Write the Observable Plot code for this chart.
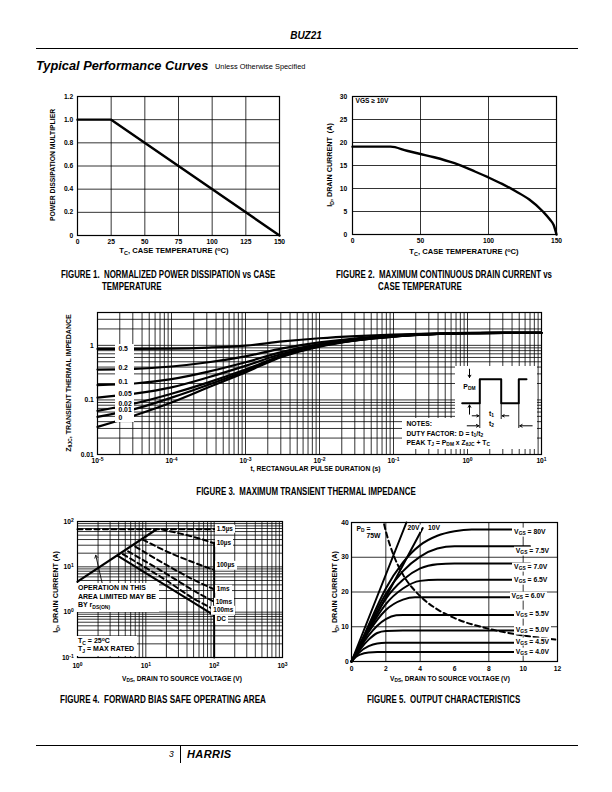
<!DOCTYPE html>
<html>
<head>
<meta charset="utf-8">
<script src="https://cdn.jsdelivr.net/npm/d3@7"></script>
<script src="https://cdn.jsdelivr.net/npm/@observablehq/plot@0.6"></script>
<style>
html,body{margin:0;padding:0;background:#fff;}
#page{position:relative;width:612px;height:792px;overflow:hidden;font-family:"Liberation Sans",Arial,Helvetica,sans-serif;color:#000;background:#fff;}
.abs{position:absolute;white-space:nowrap;line-height:1;}
sub{font-size:72%;vertical-align:-0.3em;line-height:0;}
sup{font-size:72%;vertical-align:0.45em;line-height:0;}
.rule{position:absolute;background:#000;}
</style>
</head>
<body>
<div id="page"></div>
<script>
// ================= DATA =================
// Figure 1 – normalized power dissipation vs case temperature
const f1Temp = [0, 25, 150];
const f1Mult = [1.0, 1.0, 0];
const f1XTicks = [0, 25, 50, 75, 100, 125, 150];
const f1YTicks = [0, 0.2, 0.4, 0.6, 0.8, 1.0, 1.2];
const f1YLabels = ["0", "0.2", "0.4", "0.6", "0.8", "1.0", "1.2"];

// Figure 2 – max continuous drain current vs case temperature
const f2Temp = [0, 28, 40, 50, 60, 75, 90, 100, 110, 120, 130, 140, 145, 148, 150];
const f2Id   = [19.1, 19.1, 18.2, 17.5, 16.8, 15.5, 13.7, 12.4, 11.0, 9.4, 7.6, 5.0, 3.3, 2.0, 0];
const f2XTicks = [0, 50, 100, 150];
const f2YTicks = [0, 5, 10, 15, 20, 25, 30];

// Figure 3 – transient thermal impedance
const f3Time = [1e-5, 3.16e-5, 1e-4, 3.16e-4, 1e-3, 3.16e-3, 1e-2, 3.16e-2, 1e-1, 3.16e-1, 1, 3.16, 10];
const f3Duty = ["0.5", "0.2", "0.1", "0.05", "0.02", "0.01", "0"];
const f3Z05  = [0.86, 0.86, 0.87, 0.91, 0.99, 1.18, 1.35, 1.48, 1.58, 1.65, 1.69, 1.70, 1.70];
const f3Z02  = [0.36, 0.37, 0.41, 0.49, 0.63, 0.88, 1.13, 1.35, 1.51, 1.62, 1.68, 1.70, 1.70];
const f3Z01  = [0.187, 0.20, 0.24, 0.33, 0.49, 0.76, 1.05, 1.30, 1.48, 1.61, 1.67, 1.70, 1.70];
const f3Z005 = [0.11, 0.13, 0.17, 0.26, 0.42, 0.70, 1.01, 1.27, 1.47, 1.60, 1.67, 1.70, 1.70];
const f3Z002 = [0.063, 0.086, 0.13, 0.21, 0.36, 0.66, 0.98, 1.25, 1.46, 1.60, 1.67, 1.70, 1.70];
const f3Z001 = [0.049, 0.068, 0.11, 0.19, 0.34, 0.64, 0.97, 1.24, 1.45, 1.60, 1.67, 1.70, 1.70];
const f3Z0   = [0.032, 0.052, 0.09, 0.17, 0.32, 0.62, 0.95, 1.23, 1.45, 1.59, 1.67, 1.70, 1.70];
const f3LabelT = 1.95e-5;
const f3LabelZ = [0.857, 0.37, 0.213, 0.127, 0.083, 0.063, 0.046];
const f3XTicks = [1e-5, 1e-4, 1e-3, 1e-2, 1e-1, 1, 10];
const f3XTickLabels = ["10^-5", "10^-4", "10^-3", "10^-2", "10^-1", "10^0", "10^1"];
const f3YTicks = [0.01, 0.1, 1];
const f3YTickLabels = ["0.01", "0.1", "1"];
// note inset (diagram units)
const pulseX = [6.7, 24.3, 24.3, 45.7, 45.7, 63.3, 63.3, 71];
const pulseY = [36.7, 36.7, 12.7, 12.7, 36.7, 36.7, 12.7, 12.7];

// Figure 4 – forward bias safe operating area
const f4RdsV = [1, 14.4];       const f4RdsI = [4.7, 67.6];
const f4V15us = [1, 100];       const f4I15us = [67.6, 67.6];
const f4V10us = [17, 32, 55, 100];   const f4I10us = [67, 54, 44, 33];
const f4V100us = [9, 20, 50, 100];   const f4I100us = [40, 22, 12.5, 8.5];
const f4V1ms = [7, 20, 50, 100];     const f4I1ms = [28, 11, 5.2, 3.2];
const f4V10ms = [5.5, 20, 50, 100];  const f4I10ms = [22, 7, 3, 1.7];
const f4V100ms = [4.6, 20, 50, 100]; const f4I100ms = [19, 5, 2, 1.15];
const f4VDC = [3.9, 100];       const f4IDC = [17.5, 0.85];
const f4VBV = [100, 100];       const f4IBV = [34, 0.1];
const f4ArrowV = [2.3, 1.85];   const f4ArrowI = [4.3, 18];
const f4Labels = ["1.5µs", "10µs", "100µs", "1ms", "10ms", "100ms", "DC"];
const f4LabelV = [111, 111, 111, 111, 107, 99, 111];
const f4LabelI = [67.6, 32.6, 10.5, 3.2, 1.63, 1.07, 0.68];
const f4XTicks = [1, 10, 100, 1000];
const f4XTickLabels = ["10^0", "10^1", "10^2", "10^3"];
const f4YTicks = [0.1, 1, 10, 100];
const f4YTickLabels = ["10^-1", "10^0", "10^1", "10^2"];

// Figure 5 – output characteristics
const f5Vds8  = [0, 0.5, 1, 1.5, 2, 3, 4, 5, 6, 7, 10.4];    const f5Id8  = [0, 5, 10.5, 16, 21, 28.5, 33.5, 36.2, 37.5, 38, 38];
const f5Vds75 = [0, 0.5, 1, 1.5, 2, 3, 4, 5, 6, 10.4];       const f5Id75 = [0, 5, 10, 15, 19.5, 26, 30.2, 32.5, 33.2, 33.2];
const f5Vds7  = [0, 0.5, 1, 1.5, 2, 3, 4, 5, 6, 10.4];       const f5Id7  = [0, 4.8, 9.5, 14, 18, 23.5, 26.8, 28, 28.2, 28.2];
const f5Vds65 = [0, 0.5, 1, 1.5, 2, 3, 4, 5, 10.4];          const f5Id65 = [0, 4.6, 9, 13, 16.5, 21, 23.2, 23.5, 23.5];
const f5Vds6  = [0, 0.5, 1, 1.5, 2, 3, 3.7, 10.4];           const f5Id6  = [0, 4.3, 8.5, 12, 14.8, 17.8, 18.5, 18.5];
const f5Vds55 = [0, 0.5, 1, 1.5, 2, 2.6, 3, 10.4];           const f5Id55 = [0, 4, 7.5, 10.3, 12.2, 13.3, 13.4, 13.4];
const f5Vds5  = [0, 0.5, 1, 1.5, 2, 3, 10.4];                const f5Id5  = [0, 3.5, 6.3, 8.2, 8.8, 8.9, 8.9];
const f5Vds45 = [0, 0.5, 1, 1.5, 2, 10.4];                   const f5Id45 = [0, 2.8, 4.4, 5.2, 5.4, 5.4];
const f5Vds4  = [0, 0.25, 0.5, 1, 1.5, 10.4];                const f5Id4  = [0, 1.3, 2.0, 2.6, 2.7, 2.7];
const f5Vds20 = [0, 3.2];  const f5Id20 = [0, 40];
const f5Vds10 = [0, 4.15]; const f5Id10 = [0, 38.4];
const f5PdV = [1.9, 2, 2.5, 3, 4, 5, 6, 8, 10, 12];
const f5PdI = [39.5, 37.5, 30, 25, 18.8, 15, 12.5, 9.4, 7.5, 6.25];
const f5Labels = ["80V", "7.5V", "7.0V", "6.5V", "6.0V", "5.5V", "5.0V", "4.5V", "4.0V"];
const f5LabelV = [9.5, 9.6, 9.5, 9.5, 9.35, 9.6, 9.6, 9.6, 9.6];
const f5LabelI = [37, 31.7, 27.1, 23.3, 18.6, 13.5, 8.9, 5.6, 2.7];
const f5XTicks = [0, 2, 4, 6, 8, 10, 12];
const f5GridX = [2, 4, 8, 10];
const f5YTicks = [0, 10, 20, 30, 40];

// ================= HELPERS =================
const FONT = '"Liberation Sans", Arial, Helvetica, sans-serif';
const page = document.getElementById("page");
const zip = (xs, ys) => xs.map((x, i) => ({x, y: ys[i]}));
const grid = {stroke: "#000", strokeOpacity: 1, strokeWidth: 0.8};
const frame = () => Plot.frame({stroke: "#000", strokeWidth: 1.2});
const tickStyle = {fontFamily: FONT, fontSize: "6.7px", fontWeight: "bold", background: "transparent", color: "#000", overflow: "visible"};
const logGrid = (lo, hi) => { const out = []; for (let e = lo; e < hi; e++) for (let k = 1; k < 10; k++) out.push(+(k * Math.pow(10, e)).toPrecision(3)); out.push(Math.pow(10, hi)); return out; };

function plotAt(opts, left, top) {
  const p = Plot.plot(opts);
  p.style.position = "absolute";
  p.style.left = left + "px";
  p.style.top = top + "px";
  page.appendChild(p);
  supTicks(p);
  const sx = p.scale("x"), sy = p.scale("y");
  return {el: p, X: v => left + sx.apply(v), Y: v => top + sy.apply(v)};
}
function supTicks(svg) {
  svg.querySelectorAll("text").forEach(t => {
    const m = /^10\^([-−]?\d+)$/.exec(t.textContent);
    if (m) {
      t.textContent = "10";
      const ts = document.createElementNS("http://www.w3.org/2000/svg", "tspan");
      ts.setAttribute("dy", "-0.42em");
      ts.setAttribute("font-size", "0.75em");
      ts.textContent = m[1].replace("−", "-");
      t.appendChild(ts);
    }
  });
}
function T(html, x, y, o = {}) {
  const d = document.createElement("div");
  d.className = "abs";
  d.innerHTML = html;
  const s = d.style;
  s.left = x + "px"; s.top = y + "px";
  s.fontSize = (o.size || 7) + "px";
  s.fontWeight = o.weight || "bold";
  if (o.italic) s.fontStyle = "italic";
  if (o.lh) s.lineHeight = o.lh + "px";
  if (o.ls) s.letterSpacing = o.ls + "px";
  const a = o.anchor || "start";
  let tr;
  if (o.rotate) tr = "translate(-50%,-50%) rotate(-90deg)";
  else if (a === "middle") tr = "translate(-50%,-50%)";
  else if (a === "end") tr = "translate(-100%,-50%)";
  else if (a === "top") tr = "";
  else tr = "translate(0,-50%)";
  if (o.sx) { tr += ` scaleX(${o.sx})`; s.transformOrigin = (a === "start" || a === "top") ? "0 50%" : "50% 50%"; }
  if (tr) s.transform = tr;
  if (o.bg) { s.background = "#fff"; s.padding = o.pad || "1px 2px"; }
  page.appendChild(d);
  return d;
}
function box(x, y, w, h) {
  const d = document.createElement("div");
  d.style.cssText = `position:absolute;left:${x}px;top:${y}px;width:${w}px;height:${h}px;background:#fff;`;
  page.appendChild(d);
}
function rule(x, y, w, h) {
  const d = document.createElement("div");
  d.className = "rule";
  d.style.cssText += `left:${x}px;top:${y}px;width:${w}px;height:${h}px;`;
  page.appendChild(d);
}
const lineOpts = (w = 2.2) => ({x: "x", y: "y", stroke: "#000", strokeWidth: w, curve: "monotone-x"});
const CAP = 0.79;

// ================= HEADER =================
T("BUZ21", 306, 36, {size: 10, italic: true, anchor: "middle"});
rule(36, 47.5, 542, 1);
T("Typical Performance Curves", 36, 66, {size: 12.8, italic: true});
T("Unless Otherwise Specified", 215, 67, {size: 7.4, weight: "normal"});

// ================= FIGURE 1 =================
const f1 = plotAt({
  width: 257, height: 169, marginLeft: 40, marginRight: 15, marginTop: 10, marginBottom: 20,
  style: tickStyle,
  x: {domain: [0, 150], ticks: f1XTicks, tickSize: 0, tickPadding: 3.6, label: null},
  y: {domain: [0, 1.2], ticks: f1YTicks, tickSize: 0, tickPadding: 4.3, label: null, tickFormat: d => f1YLabels[f1YTicks.indexOf(d)]},
  marks: [
    Plot.gridX(f1XTicks.slice(1, -1), grid),
    Plot.gridY(f1YTicks.slice(1, -1), grid),
    Plot.line(zip(f1Temp, f1Mult), {x: "x", y: "y", stroke: "#000", strokeWidth: 2.4}),
    frame()
  ]
}, 37, 86);
T("T<sub>C</sub>, CASE TEMPERATURE (<sup>o</sup>C)", 174, 251, {size: 7.6, anchor: "middle"});
T("POWER DISSIPATION MULTIPLIER", 52.5, 165, {size: 6.8, rotate: true});
T("FIGURE 1.&nbsp;&nbsp;NORMALIZED POWER DISSIPATION vs CASE", 60.5, 275, {size: 10, sx: CAP});
T("TEMPERATURE", 101.5, 286.5, {size: 10, sx: CAP});

// ================= FIGURE 2 =================
const f2 = plotAt({
  width: 259, height: 168, marginLeft: 40, marginRight: 15, marginTop: 10, marginBottom: 20,
  style: tickStyle,
  x: {domain: [0, 150], ticks: f2XTicks, tickSize: 0, tickPadding: 3.6, label: null},
  y: {domain: [0, 30], ticks: f2YTicks, tickSize: 0, tickPadding: 5.3, label: null},
  marks: [
    Plot.gridX(f2XTicks.slice(1, -1), grid),
    Plot.gridY(f2YTicks.slice(1, -1), grid),
    Plot.line(zip(f2Temp, f2Id), lineOpts(2.4)),
    frame()
  ]
}, 312, 86);
T("VGS ≥ 10V", 355.5, 100.5, {size: 6.6});
T("T<sub>C</sub>, CASE TEMPERATURE (<sup>o</sup>C)", 464, 252, {size: 7.6, anchor: "middle"});
T("I<sub>D</sub>, DRAIN CURRENT&nbsp;&nbsp;(A)", 330, 165, {size: 7.2, rotate: true});
T("FIGURE 2.&nbsp;&nbsp;MAXIMUM CONTINUOUS DRAIN CURRENT vs", 335.5, 275, {size: 10, sx: CAP});
T("CASE TEMPERATURE", 378, 286.5, {size: 10, sx: CAP});

// ================= FIGURE 3 =================
const f3Series = [f3Z05, f3Z02, f3Z01, f3Z005, f3Z002, f3Z001, f3Z0];
const f3 = plotAt({
  width: 496, height: 170, marginLeft: 40, marginRight: 12, marginTop: 8, marginBottom: 20,
  style: tickStyle,
  x: {type: "log", domain: [1e-5, 10], ticks: f3XTicks, tickSize: 0, tickPadding: 3.6, label: null,
      tickFormat: d => f3XTickLabels[f3XTicks.indexOf(d)]},
  y: {type: "log", domain: [0.01, 4], ticks: f3YTicks, tickSize: 0, tickPadding: 3.7, label: null,
      tickFormat: d => f3YTickLabels[f3YTicks.indexOf(d)]},
  marks: [
    Plot.gridX(logGrid(-5, 1), grid),
    Plot.gridY(logGrid(-2, 0).concat([2, 3]), grid),
    ...f3Series.map(z => Plot.line(zip(f3Time, z), lineOpts(2.2))),
    frame()
  ]
}, 57, 304);
// duty-factor labels
{
  const bx = f3.X(f3LabelT) - 3, by0 = f3.Y(f3LabelZ[0]) - 5, by1 = f3.Y(f3LabelZ[f3LabelZ.length - 1]) + 4;
  box(bx, by0, 19, by1 - by0);
  f3Duty.forEach((d, i) => T(d, f3.X(f3LabelT), f3.Y(f3LabelZ[i]), {size: 6.8}));
}
// notes inset
{
  const ux0 = f3.X(0.69), ux1 = f3.X(8.8), uy0 = f3.Y(0.415), uy1 = f3.Y(0.045);
  const lx0 = f3.X(0.132), ly1 = f3.Y(0.0123);
  box(ux0, uy0, ux1 - ux0, uy1 - uy0 + 1);
  box(lx0, uy1, ux1 - lx0, ly1 - uy1);
  const pw = plotAt({
    width: 86, height: 66, margin: 0,
    style: {background: "transparent", overflow: "visible"},
    x: {domain: [0, 86], range: [0, 86], axis: null},
    y: {domain: [0, 66], range: [0, 66], axis: null},
    marks: [
      Plot.line(zip(pulseX, pulseY), {x: "x", y: "y", stroke: "#000", strokeWidth: 2}),
      Plot.ruleX([24.3], {y1: 36.7, y2: 62, stroke: "#000", strokeWidth: 0.9}),
      Plot.ruleX([45.7], {y1: 36.7, y2: 53, stroke: "#000", strokeWidth: 0.9}),
      Plot.ruleX([63.3], {y1: 36.7, y2: 62, stroke: "#000", strokeWidth: 0.9}),
      Plot.arrow([{x1: 14, y1: 2.7, x2: 14, y2: 11}, {x1: 14, y1: 47.7, x2: 14, y2: 38.5},
                  {x1: 16.7, y1: 49.3, x2: 23.3, y2: 49.3}, {x1: 53.3, y1: 49.3, x2: 46.7, y2: 49.3},
                  {x1: 11.7, y1: 59.3, x2: 23.3, y2: 59.3}, {x1: 76.7, y1: 59.3, x2: 64.3, y2: 59.3}],
        {x1: "x1", y1: "y1", x2: "x2", y2: "y2", stroke: "#000", strokeWidth: 1, headLength: 4})
    ]
  }, ux0, uy0);
  T("P<sub>DM</sub>", pw.X(8.3), pw.Y(21), {size: 6.8});
  T("t<sub>1</sub>", pw.X(34), pw.Y(48.3), {size: 6.8});
  T("t<sub>2</sub>", pw.X(34), pw.Y(58.3), {size: 6.8});
  T("NOTES:", lx0 + 4.5, pw.Y(58.3), {size: 6.8});
  T("DUTY FACTOR: D = t<sub>1</sub>/t<sub>2</sub>", lx0 + 4.5, pw.Y(68.3), {size: 6.8});
  T("PEAK T<sub>J</sub> = P<sub>DM</sub> x Z<sub>θJC</sub> + T<sub>C</sub>", lx0 + 4.5, pw.Y(77), {size: 6.8});
}
T("t, RECTANGULAR PULSE DURATION (s)", 315.5, 468.5, {size: 6.8, anchor: "middle"});
T("Z<sub>θJC</sub>, TRANSIENT THERMAL IMPEDANCE", 67.5, 382.5, {size: 7, rotate: true});
T("FIGURE 3.&nbsp;&nbsp;MAXIMUM TRANSIENT THERMAL IMPEDANCE", 306, 492, {size: 10, sx: CAP, anchor: "middle"});

// ================= FIGURE 4 =================
const dash = {x: "x", y: "y", stroke: "#000", strokeWidth: 2, strokeDasharray: "5,3.5"};
const f4 = plotAt({
  width: 247, height: 164, marginLeft: 30, marginRight: 12, marginTop: 8, marginBottom: 20,
  style: tickStyle,
  x: {type: "log", domain: [1, 1000], ticks: f4XTicks, tickSize: 0, tickPadding: 5.5, label: null,
      tickFormat: d => f4XTickLabels[f4XTicks.indexOf(d)]},
  y: {type: "log", domain: [0.1, 100], ticks: f4YTicks, tickSize: 0, tickPadding: 3.7, label: null,
      tickFormat: d => f4YTickLabels[f4YTicks.indexOf(d)]},
  marks: [
    Plot.gridX(logGrid(0, 3), grid),
    Plot.gridY(logGrid(-1, 2), grid),
    Plot.line(zip(f4RdsV, f4RdsI), {x: "x", y: "y", stroke: "#000", strokeWidth: 2.2}),
    Plot.line(zip(f4V15us, f4I15us), dash),
    Plot.line(zip(f4V10us, f4I10us), {...dash, curve: "monotone-x"}),
    Plot.line(zip(f4V100us, f4I100us), {...dash, curve: "monotone-x"}),
    Plot.line(zip(f4V1ms, f4I1ms), {...dash, curve: "monotone-x"}),
    Plot.line(zip(f4V10ms, f4I10ms), {...dash, curve: "monotone-x"}),
    Plot.line(zip(f4V100ms, f4I100ms), {...dash, curve: "monotone-x"}),
    Plot.line(zip(f4VDC, f4IDC), {x: "x", y: "y", stroke: "#000", strokeWidth: 2.2}),
    Plot.line(zip(f4VBV, f4IBV), {x: "x", y: "y", stroke: "#000", strokeWidth: 2}),
    Plot.arrow([{x1: f4ArrowV[0], y1: f4ArrowI[0], x2: f4ArrowV[1], y2: f4ArrowI[1]}],
      {x1: "x1", y1: "y1", x2: "x2", y2: "y2", stroke: "#000", strokeWidth: 0.9, headLength: 5}),
    frame()
  ]
}, 47, 513);
f4Labels.forEach((l, i) => T(l, f4.X(f4LabelV[i]) - 2, f4.Y(f4LabelI[i]), {size: 6.4, bg: true, pad: "1px 2px"}));
T("OPERATION IN THIS<br>AREA LIMITED MAY BE<br>BY r<sub>DS(ON)</sub>", 75, 583, {size: 7, anchor: "top", lh: 8.6, bg: true, pad: "1px 3px 2px 3px"});
T("T<sub>C</sub> = 25<sup>o</sup>C<br>T<sub>J</sub> = MAX RATED", 75, 635.5, {size: 7, anchor: "top", lh: 8.6, bg: true, pad: "1px 3px 2px 3px"});
T("V<sub>DS</sub>, DRAIN TO SOURCE VOLTAGE (V)", 182, 678.5, {size: 6.6, anchor: "middle"});
T("I<sub>D</sub>, DRAIN CURRENT (A)", 55.5, 592, {size: 7.2, rotate: true});
T("FIGURE 4.&nbsp;&nbsp;FORWARD BIAS SAFE OPERATING AREA", 60, 700, {size: 10, sx: 0.81});

// ================= FIGURE 5 =================
const f5Curves = [[f5Vds8, f5Id8], [f5Vds75, f5Id75], [f5Vds7, f5Id7], [f5Vds65, f5Id65], [f5Vds6, f5Id6],
                  [f5Vds55, f5Id55], [f5Vds5, f5Id5], [f5Vds45, f5Id45], [f5Vds4, f5Id4]];
const f5 = plotAt({
  width: 248, height: 167, marginLeft: 30, marginRight: 12, marginTop: 8, marginBottom: 20,
  style: tickStyle,
  x: {domain: [0, 12], ticks: f5XTicks, tickSize: 0, tickPadding: 4.5, label: null},
  y: {domain: [0, 40], ticks: f5YTicks, tickSize: 0, tickPadding: 2.8, label: null},
  marks: [
    Plot.gridX(f5GridX, grid),
    Plot.gridY(f5YTicks.slice(1, -1), grid),
    ...f5Curves.map(([v, i]) => Plot.line(zip(v, i), lineOpts(2))),
    Plot.line(zip(f5Vds20, f5Id20), {x: "x", y: "y", stroke: "#000", strokeWidth: 2}),
    Plot.line(zip(f5Vds10, f5Id10), {x: "x", y: "y", stroke: "#000", strokeWidth: 2}),
    Plot.line(zip(f5PdV, f5PdI), {...dash, curve: "monotone-x"}),
    frame()
  ]
}, 321, 514);
f5Labels.forEach((l, i) => T(`V<sub>GS</sub> = ${l}`, f5.X(f5LabelV[i]) - 2, f5.Y(f5LabelI[i]), {size: 6.8, bg: true, pad: "1px 2px 1px 2px"}));
T("P<sub>D</sub> =", 356.5, 528.5, {size: 6.8});
T("75W", 366.5, 535.5, {size: 6.8});
T("20V", 406.5, 528, {size: 6.8, bg: true, pad: "0 1px"});
T("10V", 428, 528, {size: 6.8});
T("V<sub>DS</sub>, DRAIN TO SOURCE VOLTAGE (V)", 450, 678.5, {size: 6.6, anchor: "middle"});
T("I<sub>D</sub>, DRAIN CURRENT (A)", 335, 592, {size: 7.2, rotate: true});
T("FIGURE 5.&nbsp;&nbsp;OUTPUT CHARACTERISTICS", 367, 700, {size: 10, sx: CAP});

// ================= FOOTER =================
rule(36, 744.5, 542, 1);
T("3", 169, 754, {size: 8.5, weight: "normal", italic: true});
rule(180, 745, 1, 18);
T("HARRIS", 187, 754, {size: 11, weight: "900", italic: true, ls: 0.4});
</script>
</body>
</html>
